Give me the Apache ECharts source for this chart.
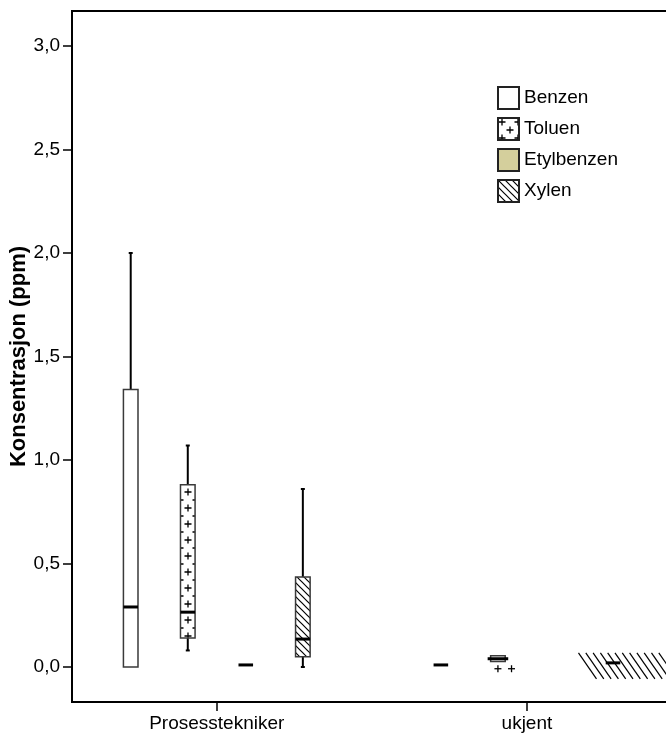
<!DOCTYPE html>
<html>
<head>
<meta charset="utf-8">
<style>
  html, body { margin: 0; padding: 0; background: #fff; }
  #chart { width: 666px; height: 744px; }
</style>
<script src="https://cdn.jsdelivr.net/npm/echarts@6/dist/echarts.min.js"></script>
</head>
<body>
<div id="chart"></div>
<script>
// Job groups on the x axis
const categories = ['Prosesstekniker', 'ukjent'];
const seriesNames = ['Benzen', 'Toluen', 'Etylbenzen', 'Xylen'];

// Box statistics per group: [min, q1, median, q3, max] (ppm); null = no data
const benzen     = [[0.00, 0.00, 0.29, 1.34, 2.00], [0.01, 0.01, 0.01, 0.01, 0.01]];
const toluen     = [[0.08, 0.14, 0.265, 0.88, 1.07], [0.027, 0.027, 0.04, 0.055, 0.055]];
const etylbenzen = [[0.01, 0.01, 0.01, 0.01, 0.01], null];
const xylen      = [[0.00, 0.05, 0.135, 0.435, 0.86], [0.02, 0.02, 0.02, 0.02, 0.02]];

const yTicks = [0, 0.5, 1.0, 1.5, 2.0, 2.5, 3.0];

const FONT = '"Liberation Sans", Arial, Helvetica, sans-serif';

// Offsets of the four boxes inside one group, in x-axis units
const groupOffsets = [-0.2775, -0.0935, 0.0935, 0.2775];
const boxWidth = 0.047;

// Fill textures
function plusPattern() {
  const c = document.createElement('canvas');
  c.width = 16; c.height = 16;
  const g = c.getContext('2d');
  g.fillStyle = '#fff'; g.fillRect(0, 0, 16, 16);
  g.strokeStyle = '#000'; g.lineWidth = 1.3;
  [[4, 4], [12, 12]].forEach(([px, py]) => {
    g.beginPath();
    g.moveTo(px - 3.5, py); g.lineTo(px + 3.5, py);
    g.moveTo(px, py - 3.5); g.lineTo(px, py + 3.5);
    g.stroke();
  });
  return c;
}
function hatchPattern() {
  const n = 7;
  const c = document.createElement('canvas');
  c.width = n; c.height = n;
  const g = c.getContext('2d');
  g.fillStyle = '#fff'; g.fillRect(0, 0, n, n);
  g.strokeStyle = '#000'; g.lineWidth = 1.2;
  g.beginPath();
  g.moveTo(-1, -1); g.lineTo(n + 1, n + 1);
  g.moveTo(-1, n - 1); g.lineTo(1, n + 1);
  g.moveTo(n - 1, -1); g.lineTo(n + 1, 1);
  g.stroke();
  return c;
}

const fills = [
  '#ffffff',
  { image: plusPattern(), repeat: 'repeat' },
  '#d4cf9c',
  { image: hatchPattern(), repeat: 'repeat' }
];

const allStats = [benzen, toluen, etylbenzen, xylen];

function toData(stats) {
  const out = [];
  stats.forEach((s, i) => { if (s) out.push([i].concat(s)); });
  return out;
}

// Texture that leaks out of a box that is too thin to hold it
function thinBoxSpill(s, xc, yMed) {
  const els = [];
  if (s === 3) {
    const top = yMed - 10, bottom = yMed + 16, dx = 18;
    for (let k = 0; k < 12; k++) {
      const x0 = xc - 34.5 + k * 7.3;
      els.push({ type: 'line', shape: { x1: x0, y1: top, x2: x0 + dx, y2: bottom },
        style: { stroke: '#000', lineWidth: 1.2 } });
    }
  } else if (s === 1) {
    [0, 13.6].forEach(d => {
      const px = xc + d, py = yMed + 10;
      els.push({ type: 'line', shape: { x1: px - 3.5, y1: py, x2: px + 3.5, y2: py }, style: { stroke: '#000', lineWidth: 1.3 } });
      els.push({ type: 'line', shape: { x1: px, y1: py - 3.5, x2: px, y2: py + 3.5 }, style: { stroke: '#000', lineWidth: 1.3 } });
    });
  }
  return els;
}

function renderItem(params, api) {
  const s = params.seriesIndex;
  const ci = api.value(0);
  const xc = api.coord([ci + groupOffsets[s], 0])[0];
  const hw = api.size([boxWidth, 0])[0] / 2;
  const y = k => api.coord([0, api.value(k)])[1];
  const yMin = y(1), yQ1 = y(2), yMed = y(3), yQ3 = y(4), yMax = y(5);
  const children = [];
  const whisker = { stroke: '#000', lineWidth: 2 };
  const cap = 2;
  const thin = yQ1 - yQ3 < 8;

  if (thin) children.push.apply(children, thinBoxSpill(s, xc, yMed));

  if (yQ3 - yMax > 0.5) {
    children.push({ type: 'line', shape: { x1: xc, y1: yQ3, x2: xc, y2: yMax }, style: whisker });
    children.push({ type: 'line', shape: { x1: xc - cap, y1: yMax, x2: xc + cap, y2: yMax }, style: whisker });
  }
  if (yMin - yQ1 > 0.5) {
    children.push({ type: 'line', shape: { x1: xc, y1: yQ1, x2: xc, y2: yMin }, style: whisker });
    children.push({ type: 'line', shape: { x1: xc - cap, y1: yMin, x2: xc + cap, y2: yMin }, style: whisker });
  }
  if (yQ1 - yQ3 > 0.5) {
    children.push({ type: 'rect', shape: { x: xc - hw, y: yQ3, width: hw * 2, height: yQ1 - yQ3 },
      style: { fill: thin ? '#fff' : fills[s], stroke: '#3a3a3a', lineWidth: 1.5 } });
  }
  const mw = thin && s === 1 ? hw + 3 : hw;
  children.push({ type: 'line', shape: { x1: xc - mw, y1: yMed, x2: xc + mw, y2: yMed },
    style: { stroke: '#000', lineWidth: 3 } });
  return { type: 'group', children };
}

const series = seriesNames.map((name, s) => ({
  name,
  type: 'custom',
  renderItem,
  clip: false,
  encode: { x: 0, y: [1, 2, 3, 4, 5] },
  itemStyle: { color: fills[s], borderColor: '#222', borderWidth: 1 },
  data: toData(allStats[s])
}));

const chart = echarts.init(document.getElementById('chart'), null, { renderer: 'canvas' });
chart.setOption({
  animation: false,
  backgroundColor: '#fff',
  textStyle: { fontFamily: FONT },
  grid: {
    left: 72, top: 11, right: -16, bottom: 42,
    outerBoundsMode: 'none',
    containLabel: false,
    show: true, borderColor: '#000', borderWidth: 2, backgroundColor: 'transparent'
  },
  legend: {
    orient: 'vertical',
    left: 497, top: 86,
    padding: 0,
    itemWidth: 21, itemHeight: 22, itemGap: 7,
    icon: 'rect',
    selectedMode: false,
    textStyle: { fontFamily: FONT, fontSize: 19, color: '#000' },
    data: seriesNames
  },
  xAxis: {
    type: 'value',
    min: -0.4668, max: 1.5,
    splitLine: { show: false },
    axisLine: { show: true, onZero: false, lineStyle: { color: '#000', width: 2 } },
    axisTick: { show: true, length: 9, customValues: [0, 1], lineStyle: { color: '#000', width: 1.5 } },
    axisLabel: {
      customValues: [0, 1], margin: 12,
      fontFamily: FONT, fontSize: 19, color: '#000',
      formatter: v => categories[Math.round(v)]
    }
  },
  yAxis: {
    type: 'value',
    min: -0.169, max: 3.169,
    name: 'Konsentrasjon (ppm)',
    nameLocation: 'middle',
    nameGap: 42,
    nameMoveOverlap: false,
    nameTextStyle: { fontFamily: FONT, fontSize: 22, fontWeight: 'bold', color: '#000' },
    splitLine: { show: false },
    axisLine: { show: true, onZero: false, lineStyle: { color: '#000', width: 2 } },
    axisTick: { show: true, length: 9, customValues: yTicks, lineStyle: { color: '#000', width: 1.5 } },
    axisLabel: {
      customValues: yTicks, margin: 12,
      fontFamily: FONT, fontSize: 19, color: '#000',
      formatter: v => v.toFixed(1).replace('.', ',')
    }
  },
  series
});
</script>
</body>
</html>
